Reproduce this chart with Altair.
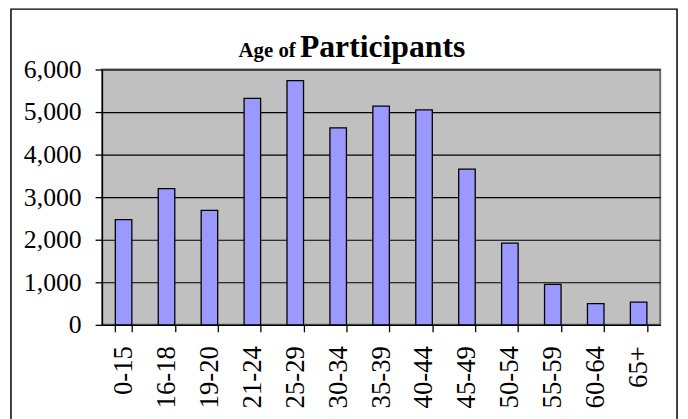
import altair as alt
import pandas as pd

age_groups = ["0-15", "16-18", "19-20", "21-24", "25-29", "30-34", "35-39",
              "40-44", "45-49", "50-54", "55-59", "60-64", "65+"]
participants = [2470, 3200, 2690, 5320, 5740, 4630, 5140, 5050, 3660, 1920, 950, 500, 535]
title_part1 = "Age of"
title_part2 = "Participants"

df = pd.DataFrame({"age": age_groups, "count": participants})
FONT = "Liberation Serif"

border = alt.Chart(pd.DataFrame({"k": [0]})).mark_rect(
    filled=False, fillOpacity=0, stroke="black", strokeWidth=1.5
).encode(
    x=alt.value(-92), x2=alt.value(581), y=alt.value(-61), y2=alt.value(425)
)

bars = alt.Chart(df).mark_bar(
    color="#9999FF", stroke="black", strokeWidth=1.3
).encode(
    x=alt.X("age:N", sort=age_groups, title=None,
            scale=alt.Scale(paddingInner=0.615, paddingOuter=0.31),
            axis=alt.Axis(tickBand="extent", labelAngle=-90, labelFont=FONT,
                          labelFontSize=27, labelColor="black", tickSize=7,
                          tickColor="black", domainColor="black", labelPadding=14,
                          grid=False, domainWidth=1.3, tickWidth=1.3)),
    y=alt.Y("count:Q", title=None,
            scale=alt.Scale(domain=[0, 6000], nice=False),
            axis=alt.Axis(values=[0, 1000, 2000, 3000, 4000, 5000, 6000], format=",d",
                          labelFont=FONT, labelFontSize=26, labelColor="black",
                          tickSize=7, tickColor="black", domainColor="black",
                          labelPadding=14, gridColor="black", gridWidth=1.2,
                          gridOpacity=1, domainWidth=1.3, tickWidth=1.3)),
)

t1 = alt.Chart(pd.DataFrame({"t": [title_part1]})).mark_text(
    font=FONT, fontSize=21, fontWeight="bold", align="left", baseline="alphabetic", color="black"
).encode(x=alt.value(138), y=alt.value(-13), text="t:N")

t2 = alt.Chart(pd.DataFrame({"t": [title_part2]})).mark_text(
    font=FONT, fontSize=32, fontWeight="bold", align="left", baseline="alphabetic", color="black"
).encode(x=alt.value(200), y=alt.value(-13), text="t:N")

chart = alt.layer(bars, border, t1, t2).properties(
    width=564, height=258,
    autosize=alt.AutoSizeParams(type="none"),
    padding={"left": 95, "top": 60, "right": 20, "bottom": 93},
    background="white",
).configure_view(
    fill="#C0C0C0", stroke="#707070", strokeWidth=2
)

chart.save("out.html", embed_options={"renderer": "svg", "actions": False})
